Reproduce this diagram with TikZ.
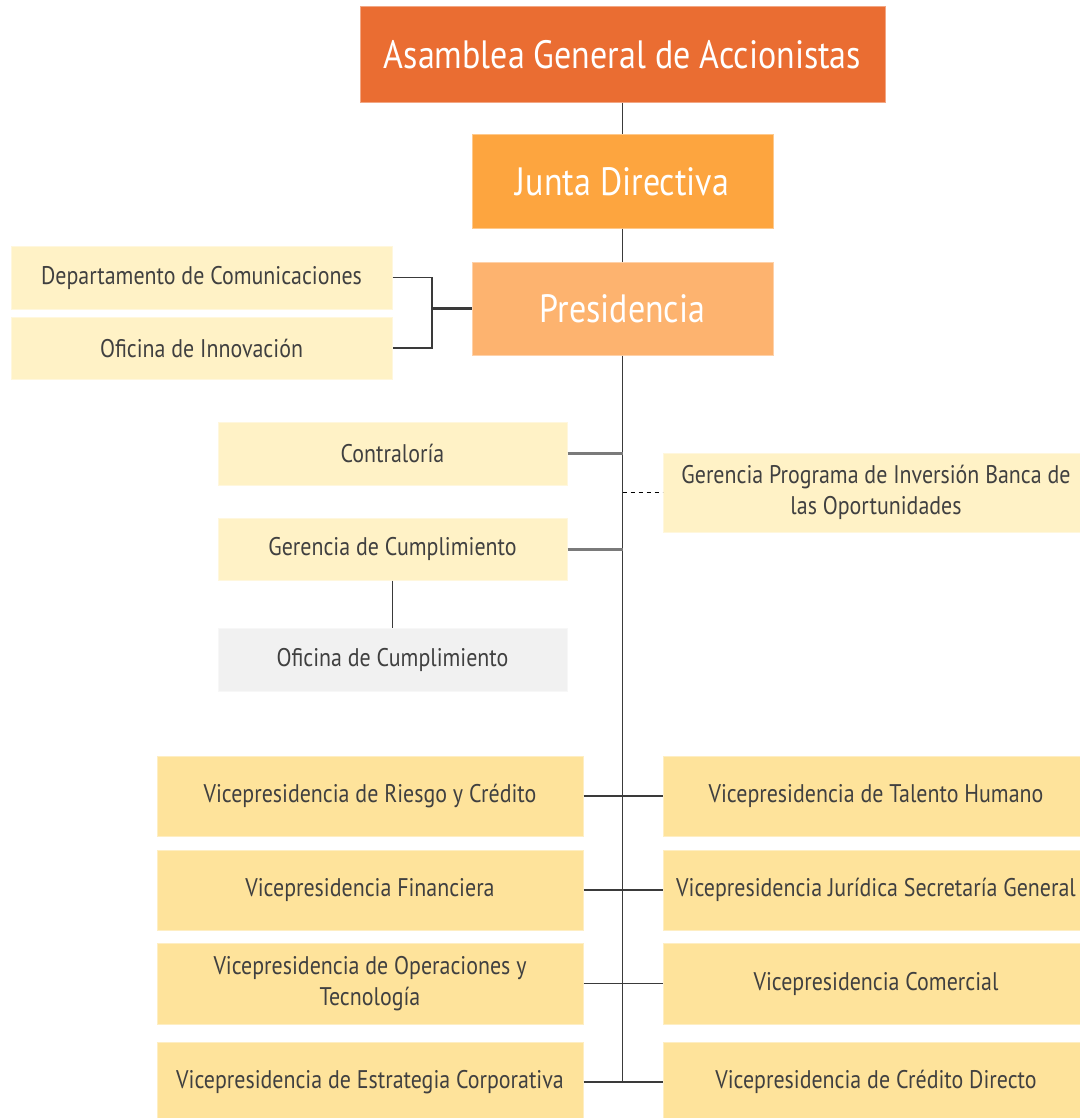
\documentclass[tikz,border=0pt]{standalone}
\usepackage{fontspec}
\setmainfont{PT Sans}[FakeStretch=0.86]
\definecolor{cAsam}{HTML}{EA6D32}
\definecolor{cJunta}{HTML}{FDA53F}
\definecolor{cPres}{HTML}{FDB36F}
\definecolor{cLight}{HTML}{FFF2C6}
\definecolor{cVP}{HTML}{FEE39B}
\definecolor{cGray}{HTML}{F1F1F1}
\definecolor{cTxt}{HTML}{404040}
\definecolor{cLine}{HTML}{3A3A3A}
\definecolor{cGLine}{HTML}{7A7A7A}
\begin{document}
\begin{tikzpicture}[x=1pt,y=-1pt,
  base/.style={rectangle, inner sep=0pt, align=center, line width=1pt},
  title/.style={base, text=white, font=\fontsize{39.5}{46}\selectfont},
  unit/.style={base, fill=cLight, draw=cLight!60!white, text=cTxt, font=\fontsize{25.5}{31}\selectfont},
  vpbox/.style={base, fill=cVP, draw=cVP!60!white, text=cTxt, font=\fontsize{25.5}{31}\selectfont, minimum width=426pt, minimum height=80pt},
  link/.style={draw=cLine, line width=1.8pt},
  glink/.style={draw=cGLine, line width=3pt},
  dlink/.style={draw=black, line width=1.2pt, dash pattern=on 4pt off 4pt},
]
\useasboundingbox (0,0) rectangle (1079,1118);
% top chain
\node[title, fill=cAsam, draw=cAsam!60!white, minimum width=525pt, minimum height=96pt] (asam) at (622.5,55) {Asamblea General de Accionistas};
\node[title, fill=cJunta, draw=cJunta!60!white, minimum width=301pt, minimum height=93pt] (junta) at (622.5,181.5) {Junta Directiva};
\node[title, fill=cPres, draw=cPres!60!white, minimum width=301pt, minimum height=93pt] (pres) at (622.5,308.5) {Presidencia};
% staff left of presidencia
\node[unit, minimum width=381pt, minimum height=63pt] (dep) at (201.5,277.5) {Departamento de Comunicaciones};
\node[unit, minimum width=381pt, minimum height=62pt] (ofi) at (201.5,348) {Oficina de Innovación};
% middle units
\node[unit, minimum width=349pt, minimum height=63pt] (contra) at (392.5,453.5) {Contraloría};
\node[unit, minimum width=349pt, minimum height=62pt] (gercum) at (392.5,549) {Gerencia de Cumplimiento};
\node[unit, fill=cGray, draw=cGray!60!white, minimum width=349pt, minimum height=63pt] (oficum) at (392.5,659.5) {Oficina de Cumplimiento};
\node[unit, minimum width=426pt, minimum height=79pt] (gerprog) at (876,492.5) {Gerencia Programa de Inversión Banca de\\las Oportunidades};
% vice presidencies
\node[vpbox] (vl1) at (370,796) {Vicepresidencia de Riesgo y Crédito};
\node[vpbox] (vl2) at (370,890) {Vicepresidencia Financiera};
\node[vpbox, minimum height=81pt] (vl3) at (370,983.5) {Vicepresidencia de Operaciones y\\Tecnología};
\node[vpbox] (vl4) at (370,1082) {Vicepresidencia de Estrategia Corporativa};
\node[vpbox] (vr1) at (876,796) {Vicepresidencia de Talento Humano};
\node[vpbox] (vr2) at (876,890) {Vicepresidencia Jurídica Secretaría General};
\node[vpbox, minimum height=81pt] (vr3) at (876,983.5) {Vicepresidencia Comercial};
\node[vpbox] (vr4) at (876,1082) {Vicepresidencia de Crédito Directo};
% connectors
\coordinate (bottom) at (622.5,1082);
\coordinate (brk) at (432,308.5);
\draw[link] (asam.south) -- (junta.north);
\draw[link] (junta.south) -- (pres.north);
\draw[link] (pres.south) -- (bottom);
\draw[link] (dep.east) -| (brk) |- (ofi.east);
\draw[link, line width=2.6pt] (brk) -- (pres.west);
\draw[glink] (contra.east) -- (contra.east -| bottom);
\draw[glink] (gercum.east) -- (gercum.east -| bottom);
\draw[dlink] (gerprog.west -| bottom) -- (gerprog.west);
\draw[link] (gercum.south) -- (oficum.north);
\draw[link] (vl1.east) -- (vr1.west);
\draw[link] (vl2.east) -- (vr2.west);
\draw[link] (vl3.east) -- (vr3.west);
\draw[link] (vl4.east) -- (vr4.west);
\end{tikzpicture}
\end{document}
